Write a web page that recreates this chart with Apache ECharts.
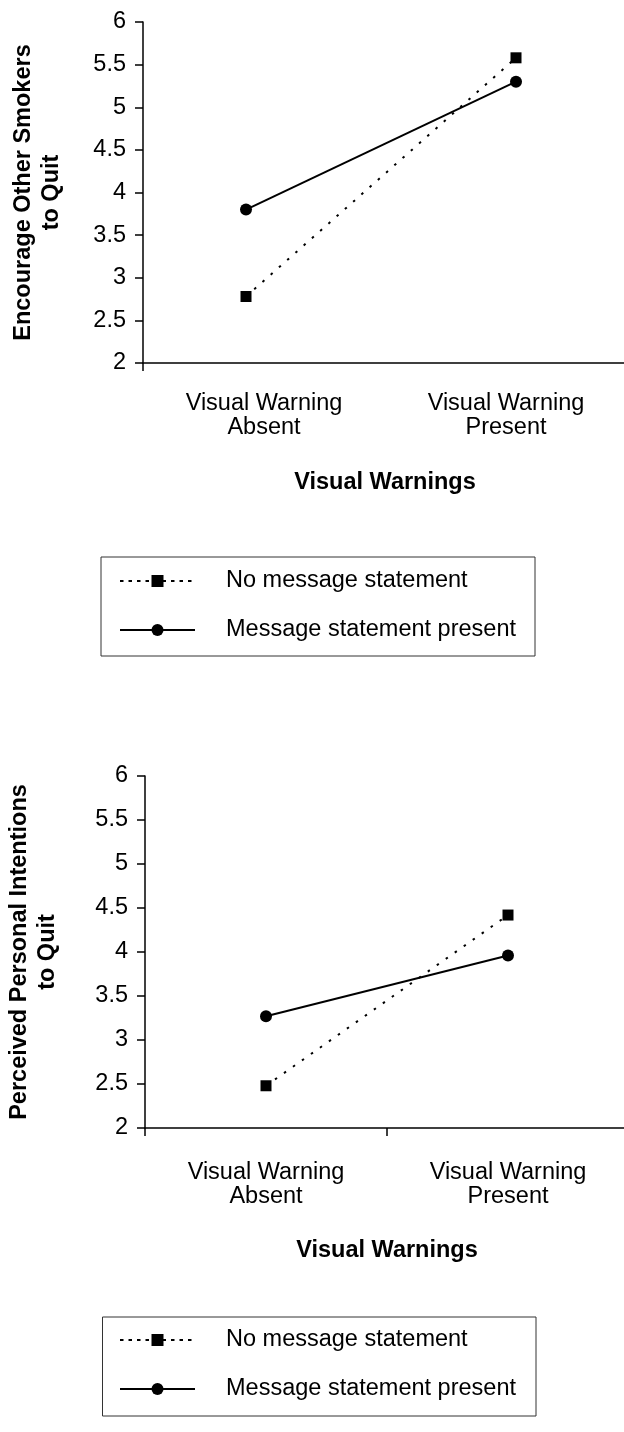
<!DOCTYPE html>
<html><head><meta charset="utf-8">
<script src="https://cdn.jsdelivr.net/npm/echarts/dist/echarts.min.js"></script>
<style>html,body{margin:0;padding:0;background:#fff}#c{width:624px;height:1432px}</style>
</head><body><div id="c"></div>
<script>
const categories = ['Visual Warning\nAbsent', 'Visual Warning\nPresent'];
const seriesNames = ['No message statement', 'Message statement present'];
const encourageNoMessage = [2.78, 5.58];
const encourageMessage = [3.80, 5.30];
const intentionsNoMessage = [2.48, 4.42];
const intentionsMessage = [3.27, 3.96];
const yMin = 2, yMax = 6, yStep = 0.5;
const yTitleTop = 'Encourage Other Smokers\nto Quit';
const yTitleBottom = 'Perceived Personal Intentions\nto Quit';
const xTitle = 'Visual Warnings';

const FONT = '"Liberation Sans", Arial, Helvetica, sans-serif';
const FS = 23.5;
const BLACK = '#000';
const chart = echarts.init(document.getElementById('c'), null, {renderer: 'canvas'});

function yAxis(gridIndex, name, gap) {
  return {
    type: 'value', gridIndex, min: yMin, max: yMax, interval: yStep,
    name, nameLocation: 'middle', nameGap: gap,
    nameTextStyle: {fontFamily: FONT, fontWeight: 'bold', fontSize: FS, lineHeight: 28, color: BLACK, align: 'center'},
    axisLine: {show: true, onZero: false, lineStyle: {color: BLACK, width: 1.5}},
    axisTick: {show: true, inside: false, length: 8, lineStyle: {color: BLACK, width: 1.5}},
    axisLabel: {margin: 17, fontFamily: FONT, fontSize: FS, color: BLACK},
    splitLine: {show: false}
  };
}
function catAxis(gridIndex, tickFn, labelMargin, nameGap) {
  return {
    type: 'category', gridIndex, data: categories, boundaryGap: true,
    name: xTitle, nameLocation: 'middle', nameGap,
    nameTextStyle: {fontFamily: FONT, fontWeight: 'bold', fontSize: FS, color: BLACK},
    axisLine: {show: true, onZero: false, lineStyle: {color: BLACK, width: 1.5}},
    axisTick: {show: true, length: 8, interval: tickFn, lineStyle: {color: BLACK, width: 1.5}},
    axisLabel: {margin: labelMargin, fontFamily: FONT, fontSize: FS, lineHeight: 24, color: BLACK, interval: 0},
    splitLine: {show: false}
  };
}
function lineSeries(name, values, xAxisIndex, yAxisIndex, dotted, asPairs) {
  return {
    name, type: 'line', xAxisIndex, yAxisIndex,
    data: asPairs ? values.map((v, i) => [i, v]) : values,
    symbol: dotted ? 'rect' : 'circle', symbolSize: dotted ? 11 : 12,
    showSymbol: true,
    lineStyle: {color: BLACK, width: 2, type: dotted ? [2.5, 8.5] : 'solid'},
    itemStyle: {color: BLACK},
    emphasis: {disabled: true},
    animation: false, z: dotted ? 3 : 2
  };
}
function legend(top) {
  return {
    orient: 'vertical', left: 119, top, padding: 0, itemGap: 25,
    itemWidth: 75, itemHeight: 15,
    data: [
      {name: seriesNames[0], lineStyle: {type: [3.5, 5], width: 2}},
      {name: seriesNames[1], lineStyle: {type: 'solid', width: 2}}
    ],
    selectedMode: false,
    textStyle: {fontFamily: FONT, fontSize: FS, color: BLACK, lineHeight: 22, padding: [0, 0, 0, 26]}
  };
}

chart.setOption({
  animation: false,
  backgroundColor: '#fff',
  grid: [
    {left: 143, right: -3, top: 22, height: 341, containLabel: false, outerBoundsMode: 'none'},
    {left: 145, right: -5, top: 776, height: 352, containLabel: false, outerBoundsMode: 'none'}
  ],
  xAxis: [
    catAxis(0, (i) => i === 0, 29, 108),
    {type: 'value', gridIndex: 0, min: -0.3815, max: 1.4111, show: false},
    catAxis(1, () => true, 33, 111)
  ],
  yAxis: [
    yAxis(0, yTitleTop, 77),
    yAxis(1, yTitleBottom, 83)
  ],
  legend: [legend(569), legend(1328)],
  graphic: [
    {type: 'rect', shape: {x: 101, y: 557, width: 434, height: 99}, style: {fill: 'none', stroke: '#333', lineWidth: 1}, silent: true},
    {type: 'rect', shape: {x: 102.5, y: 1317, width: 433.5, height: 99}, style: {fill: 'none', stroke: '#333', lineWidth: 1}, silent: true}
  ],
  series: [
    lineSeries(seriesNames[0], encourageNoMessage, 1, 0, true, true),
    lineSeries(seriesNames[1], encourageMessage, 1, 0, false, true),
    lineSeries(seriesNames[0], intentionsNoMessage, 2, 1, true, false),
    lineSeries(seriesNames[1], intentionsMessage, 2, 1, false, false)
  ]
});
</script></body></html>
